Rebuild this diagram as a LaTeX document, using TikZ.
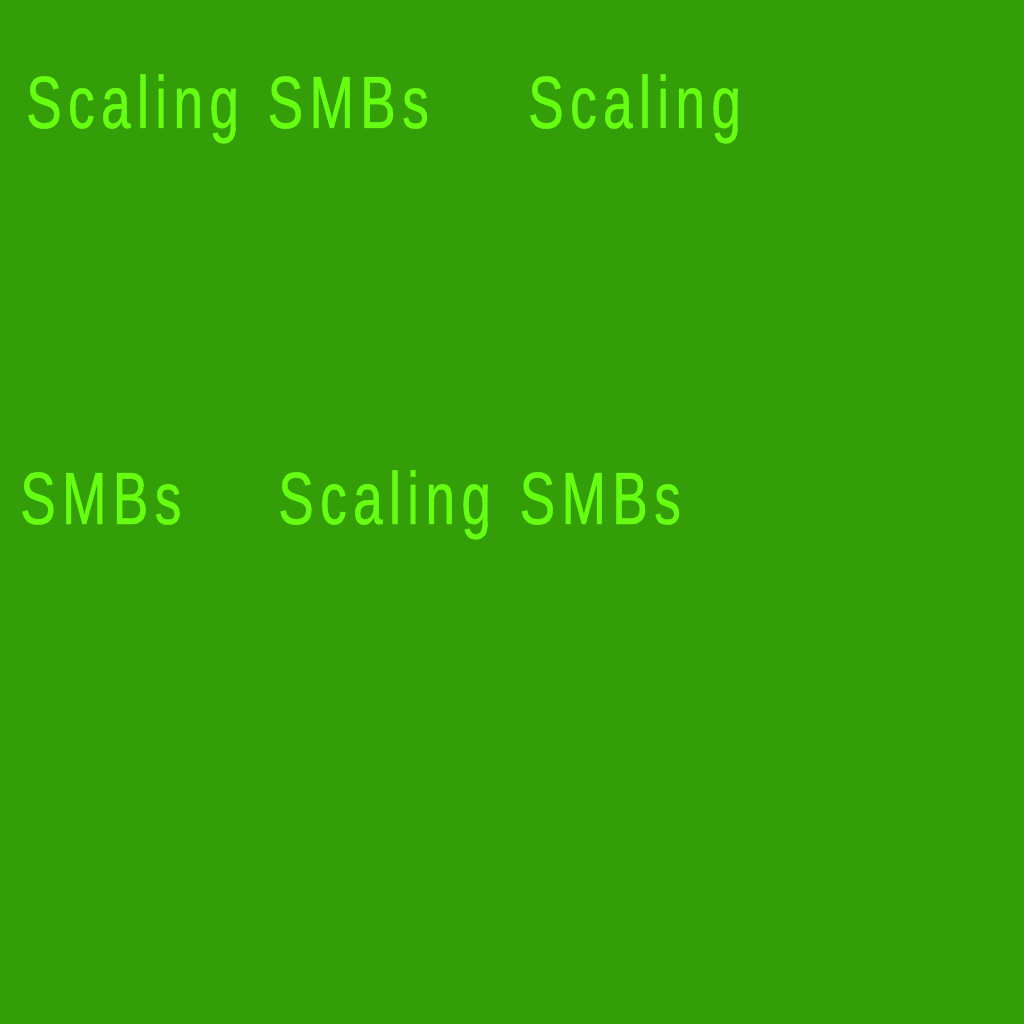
\documentclass[tikz,border=0pt]{standalone}
\usepackage{fontspec}
\newfontfamily\labelfont[FakeStretch=0.72,LetterSpace=8.6,FakeBold=0.6,WordSpace=1.35]{Liberation Sans}
\definecolor{bggreen}{RGB}{51,158,8}
\definecolor{txtgreen}{RGB}{102,255,17}
\tikzset{lbl/.style={anchor=base west,inner sep=0pt,text=txtgreen,font=\labelfont\fontsize{74}{74}\selectfont}}
\begin{document}
\begin{tikzpicture}[x=1pt,y=-1pt]
\fill[bggreen] (0,0) rectangle (1024,1024);
\useasboundingbox (0,0) rectangle (1024,1024);
\node[lbl] (t1) at (26,128) {Scaling SMBs};
\node[lbl] (t2) at (528,128) {Scaling};
\node[lbl] (t3) at (20,524) {SMBs};
\node[lbl] (t4) at (278,524) {Scaling SMBs};
\end{tikzpicture}
\end{document}
